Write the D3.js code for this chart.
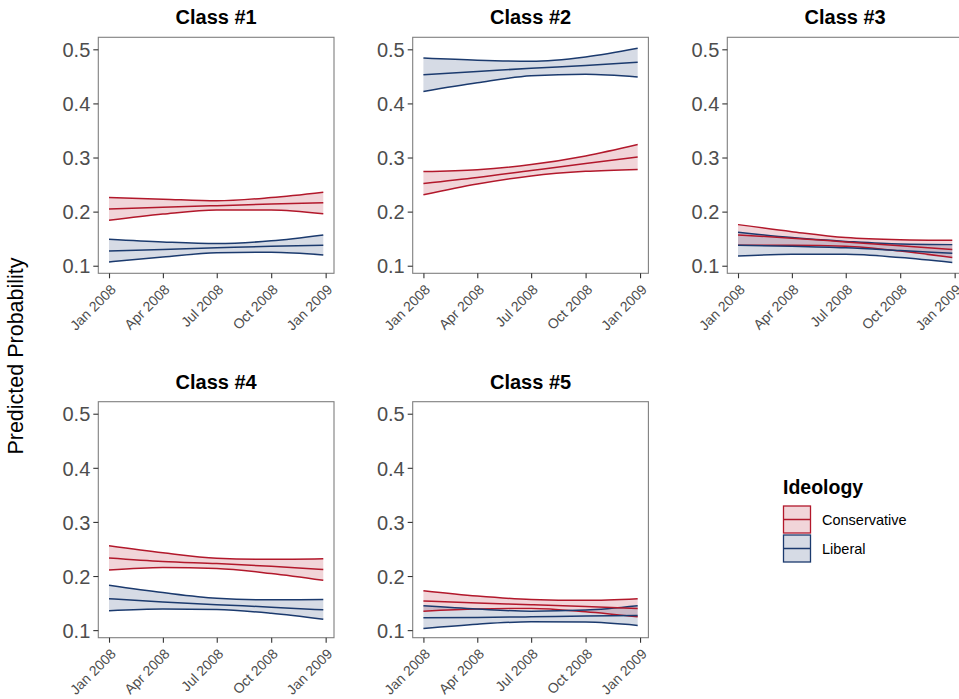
<!DOCTYPE html>
<html>
<head>
<meta charset="utf-8">
<script src="https://cdn.jsdelivr.net/npm/d3@7"></script>
<style>
  html, body { margin: 0; padding: 0; background: #fff; }
  svg { display: block; font-family: "Liberation Sans", Arial, Helvetica, sans-serif; }
</style>
</head>
<body>
<svg id="chart" width="959" height="699"></svg>
<script>
// Time points at which the fitted probabilities are shown
const dates = ["2008-01-01", "2008-04-01", "2008-07-01", "2008-10-01", "2008-12-28"];
const xTickLabels = ["Jan 2008", "Apr 2008", "Jul 2008", "Oct 2008", "Jan 2009"];
const xTickDates = ["2008-01-01", "2008-04-01", "2008-07-01", "2008-10-01", "2009-01-01"];
const yTicks = [0.1, 0.2, 0.3, 0.4, 0.5];
const classes = ["Class #1", "Class #2", "Class #3", "Class #4", "Class #5"];
const ideologies = ["Conservative", "Liberal"];

// Conservative: fit, lower and upper bounds per class
const consFit = [
  [0.205, 0.208, 0.211, 0.214, 0.2165],
  [0.252, 0.263, 0.276, 0.289, 0.301],
  [0.157, 0.151, 0.144, 0.137, 0.130],
  [0.2335, 0.227, 0.223, 0.218, 0.212],
  [0.154, 0.150, 0.147, 0.1437, 0.140]
];
const consLow = [
  [0.184, 0.1955, 0.203, 0.203, 0.196],
  [0.231, 0.251, 0.266, 0.2745, 0.278],
  [0.138, 0.138, 0.136, 0.127, 0.115],
  [0.211, 0.2157, 0.214, 0.2046, 0.192],
  [0.135, 0.139, 0.140, 0.134, 0.1246]
];
const consHigh = [
  [0.226, 0.223, 0.220, 0.226, 0.236],
  [0.274, 0.2775, 0.287, 0.303, 0.324],
  [0.176, 0.163, 0.152, 0.148, 0.147],
  [0.256, 0.243, 0.233, 0.231, 0.232],
  [0.173, 0.163, 0.1566, 0.155, 0.158]
];

// Liberal: fit, lower and upper bounds per class
const libFit = [
  [0.127, 0.130, 0.133, 0.136, 0.138],
  [0.453, 0.459, 0.465, 0.470, 0.476],
  [0.138, 0.136, 0.133, 0.128, 0.123],
  [0.158, 0.152, 0.147, 0.1425, 0.1375],
  [0.1228, 0.1234, 0.1246, 0.126, 0.127]
];
const libLow = [
  [0.107, 0.116, 0.124, 0.125, 0.120],
  [0.422, 0.438, 0.451, 0.454, 0.449],
  [0.118, 0.121, 0.121, 0.115, 0.106],
  [0.1357, 0.139, 0.138, 0.131, 0.120],
  [0.103, 0.111, 0.1154, 0.1148, 0.1086]
];
const libHigh = [
  [0.149, 0.144, 0.141, 0.146, 0.157],
  [0.484, 0.480, 0.478, 0.486, 0.502],
  [0.162, 0.152, 0.145, 0.140, 0.139],
  [0.183, 0.1695, 0.159, 0.156, 0.1566],
  [0.145, 0.139, 0.135, 0.137, 0.145]
];

const lineColor = { Conservative: "#B2182B", Liberal: "#1B3A6E" };
const fillColor = { Conservative: "rgba(178,24,43,0.18)", Liberal: "rgba(27,58,110,0.18)" };

const svg = d3.select("#chart");
const parse = d3.timeParse("%Y-%m-%d");
const t = dates.map(parse);

// Facet grid geometry
const colLeft = [98.3, 412.7, 727.3];
const rowTop = [37.3, 401.7];
const pw = 235.7, ph = 236;

const span = t[t.length - 1] - t[0];
const x = d3.scaleTime()
  .domain([new Date(+t[0] - 0.05 * span), new Date(+t[t.length - 1] + 0.05 * span)])
  .range([0, pw]);
const y = d3.scaleLinear().domain([0.086, 0.5222]).range([ph, 0]);

const seriesFor = (ci) => [
  { key: "Conservative", fit: consFit[ci], low: consLow[ci], high: consHigh[ci] },
  { key: "Liberal", fit: libFit[ci], low: libLow[ci], high: libHigh[ci] }
];

const curve = d3.curveMonotoneX;
const area = d3.area().curve(curve)
  .x((d, i) => x(t[i]))
  .y0(d => y(d[0])).y1(d => y(d[1]));
const line = d3.line().curve(curve)
  .x((d, i) => x(t[i])).y(d => y(d));

classes.forEach((name, ci) => {
  const col = ci % 3, row = Math.floor(ci / 3);
  const g = svg.append("g").attr("transform", `translate(${colLeft[col]},${rowTop[row]})`);

  // panel title
  g.append("text")
    .attr("x", pw / 2).attr("y", -13)
    .attr("text-anchor", "middle")
    .attr("font-weight", "bold").attr("font-size", 20)
    .attr("fill", "#000")
    .text(name);

  const series = seriesFor(ci);

  // confidence ribbons
  series.forEach(s => {
    g.append("path")
      .datum(s.low.map((v, i) => [v, s.high[i]]))
      .attr("d", area)
      .attr("fill", fillColor[s.key]);
  });
  // ribbon edges
  series.forEach(s => {
    [s.low, s.high].forEach(b => {
      g.append("path").datum(b).attr("d", line)
        .attr("fill", "none").attr("stroke", lineColor[s.key]).attr("stroke-width", 1.5);
    });
  });
  // fitted lines
  series.forEach(s => {
    g.append("path").datum(s.fit).attr("d", line)
      .attr("fill", "none").attr("stroke", lineColor[s.key]).attr("stroke-width", 1.5);
  });

  // panel border
  g.append("rect")
    .attr("x", 0).attr("y", 0).attr("width", pw).attr("height", ph)
    .attr("fill", "none").attr("stroke", "#7f7f7f").attr("stroke-width", 1.1);

  // y axis
  const yAxis = d3.axisLeft(y).tickValues(yTicks).tickFormat(d3.format(".1f"))
    .tickSize(5).tickPadding(3);
  const ya = g.append("g").call(yAxis);
  ya.select(".domain").remove();
  ya.selectAll(".tick line").attr("stroke", "#333").attr("stroke-width", 1.1);
  ya.selectAll(".tick text")
    .attr("font-size", 20).attr("fill", "#4D4D4D")
    .attr("font-family", "Liberation Sans, Arial, sans-serif")
    .attr("dy", "0.36em");

  // x axis
  const xAxis = d3.axisBottom(x).tickValues(xTickDates.map(parse))
    .tickFormat((d, i) => xTickLabels[i]).tickSize(5).tickPadding(3);
  const xa = g.append("g").attr("transform", `translate(0,${ph})`).call(xAxis);
  xa.select(".domain").remove();
  xa.selectAll(".tick line").attr("stroke", "#333").attr("stroke-width", 1.1);
  xa.selectAll(".tick text")
    .attr("font-size", 14).attr("fill", "#4D4D4D")
    .attr("font-family", "Liberation Sans, Arial, sans-serif")
    .attr("text-anchor", "end")
    .attr("x", 0).attr("y", 0).attr("dy", "0.72em")
    .attr("transform", "translate(0,10) rotate(-45)");
});

// y axis title
svg.append("text")
  .attr("transform", "translate(23,356) rotate(-90)")
  .attr("text-anchor", "middle")
  .attr("font-size", 21.5).attr("fill", "#000")
  .text("Predicted Probability");

// legend
const lg = svg.append("g").attr("transform", "translate(783,0)");
lg.append("text").attr("x", 0).attr("y", 494)
  .attr("font-weight", "bold").attr("font-size", 19.5).attr("fill", "#000")
  .text("Ideology");
ideologies.forEach((k, i) => {
  const ky = 506 + i * 29;
  lg.append("rect").attr("x", 0.5).attr("y", ky).attr("width", 27).attr("height", 27)
    .attr("fill", fillColor[k]).attr("stroke", lineColor[k]).attr("stroke-width", 1.3);
  lg.append("line").attr("x1", 1).attr("x2", 27.5)
    .attr("y1", ky + 13.5).attr("y2", ky + 13.5)
    .attr("stroke", lineColor[k]).attr("stroke-width", 1.5);
  lg.append("text").attr("x", 39).attr("y", ky + 19)
    .attr("font-size", 14.5).attr("fill", "#000")
    .text(k);
});
</script>
</body>
</html>
